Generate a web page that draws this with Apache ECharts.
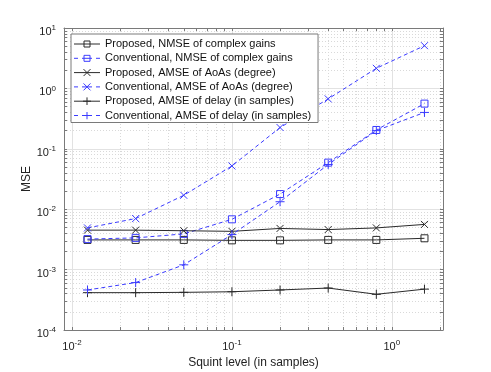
<!DOCTYPE html>
<html>
<head>
<meta charset="utf-8">
<script src="https://cdn.jsdelivr.net/npm/echarts@6/dist/echarts.min.js"></script>
<style>
  html, body { margin: 0; padding: 0; background: #fff; }
  #chart { width: 491px; height: 372px; pointer-events: none; }
</style>
</head>
<body>
<div id="chart"></div>
<script>
// squint levels (in samples)
const squint = [0.0125, 0.025, 0.05, 0.1, 0.2, 0.4, 0.8, 1.6];

const propNmse  = [3.1e-3, 3.1e-3, 3.1e-3, 3.05e-3, 3.05e-3, 3.1e-3, 3.1e-3, 3.3e-3];
const convNmse  = [3.2e-3, 3.35e-3, 3.9e-3, 6.8e-3, 1.78e-2, 0.059, 0.205, 0.56];
const propAoa   = [4.5e-3, 4.5e-3, 4.4e-3, 4.3e-3, 4.8e-3, 4.6e-3, 4.9e-3, 5.6e-3];
const convAoa   = [4.9e-3, 7.0e-3, 1.7e-2, 5.2e-2, 0.225, 0.67, 2.15, 5.1];
const propDelay = [4.15e-4, 4.15e-4, 4.2e-4, 4.3e-4, 4.6e-4, 4.95e-4, 3.9e-4, 4.75e-4];
const convDelay = [4.6e-4, 6.1e-4, 1.2e-3, 3.8e-3, 1.33e-2, 0.055, 0.2, 0.4];

const seriesNames = [
  'Proposed, NMSE of complex gains',
  'Conventional, NMSE of complex gains',
  'Proposed, AMSE of AoAs (degree)',
  'Conventional, AMSE of AoAs (degree)',
  'Proposed, AMSE of delay (in samples)',
  'Conventional, AMSE of delay (in samples)',
];

// decade exponents shown as tick labels
const xDecades = [-2, -1, 0];
const yDecades = [-4, -3, -2, -1, 0, 1];

// axis extents in log10 units
const X_LO = -2.05, X_HI = 0.32;
const Y_LO = -4, Y_HI = 1;

const FONT = '"Liberation Sans", Arial, sans-serif';
const BLACK = '#2a2a2a', BLUE = '#3b3bff';
const BOX = '#7a7a7a';
const CLEAR = 'rgba(0,0,0,0)';

const SYM = {
  square: 'path://M0,0L10,0L10,10L0,10Z',
  cross: 'path://M0,0L10,10M10,0L0,10',
  plus: 'path://M5,0L5,10M0,5L10,5',
};

// legend icons: line sample (26 x 8) with the marker in the middle
const SOLID = 'M0,4L26,4';
const DASHED = 'M0,4L4,4M8,4L18,4M22,4L26,4';
const ICON_MARK = {
  square: 'M10,1L16,1L16,7L10,7Z',
  cross: 'M9.5,0.5L16.5,7.5M16.5,0.5L9.5,7.5',
  plus: 'M13,0L13,8M9,4L17,4',
};

function legendIcon(d, color) {
  const svg = '<svg xmlns="http://www.w3.org/2000/svg" width="26" height="8" viewBox="0 0 26 8">' +
    '<path d="' + d + '" fill="none" stroke="' + color + '" stroke-width="1"/></svg>';
  return 'image://data:image/svg+xml;charset=utf-8,' + encodeURIComponent(svg);
}

function minorLogs(lo, hi) {
  const out = [];
  for (let n = Math.floor(lo); n <= Math.ceil(hi); n++) {
    for (let k = 2; k <= 9; k++) {
      const v = Math.log10(k) + n;
      if (v > lo && v < hi) out.push(v);
    }
  }
  return out;
}

const rich = {
  b: { fontSize: 11, fontFamily: FONT, color: '#222', padding: [8, 0, 0, 0] },
  s: { fontSize: 8, fontFamily: FONT, color: '#222' },
};
const powLabel = (v) => '{b|10}{s|' + Math.round(v) + '}';

const boxLine = { show: true, onZero: false, lineStyle: { color: BOX, width: 1 } };

function decoAxis(pos, lo, hi, major, opts) {
  return Object.assign({
    type: 'value', position: pos, min: lo, max: hi, gridIndex: 0,
    axisLine: { show: false, onZero: false },
    axisTick: { show: true, inside: true, length: 3, customValues: major,
                lineStyle: { color: BOX, width: 1 } },
    axisLabel: { show: false },
    splitLine: { show: false },
  }, opts || {});
}

const xMinor = minorLogs(X_LO, X_HI);
const yMinor = minorLogs(Y_LO, Y_HI);

const xAxes = [
  // data axis (log)
  { type: 'log', min: Math.pow(10, X_LO), max: Math.pow(10, X_HI), show: false },
  // bottom, major + labels
  decoAxis('bottom', X_LO, X_HI, xDecades, {
    axisLine: boxLine,
    axisLabel: { show: true, customValues: xDecades, margin: 3, formatter: powLabel, rich },
    splitLine: { show: true, lineStyle: { color: '#e2e2e2', width: 1 } },
    name: 'Squint level (in samples)', nameLocation: 'middle', nameGap: 27,
    nameMoveOverlap: false,
    nameTextStyle: { fontSize: 12, fontFamily: FONT, color: '#222' },
  }),
  // bottom, minor
  decoAxis('bottom', X_LO, X_HI, xMinor, {
    splitLine: { show: true, lineStyle: { color: '#d9d9d9', width: 1, type: [1, 2] } },
  }),
  // top box side
  decoAxis('top', X_LO, X_HI, xDecades, { axisLine: boxLine }),
  decoAxis('top', X_LO, X_HI, xMinor),
];

const yAxes = [
  { type: 'log', min: Math.pow(10, Y_LO), max: Math.pow(10, Y_HI), show: false },
  decoAxis('left', Y_LO, Y_HI, yDecades, {
    axisLine: boxLine,
    axisLabel: { show: true, customValues: yDecades, margin: 8, formatter: powLabel, rich },
    splitLine: { show: true, lineStyle: { color: '#e2e2e2', width: 1 } },
    name: 'MSE', nameLocation: 'middle', nameGap: 31,
    nameMoveOverlap: false,
    nameTextStyle: { fontSize: 12, fontFamily: FONT, color: '#222' },
  }),
  decoAxis('left', Y_LO, Y_HI, yMinor, {
    splitLine: { show: true, lineStyle: { color: '#d9d9d9', width: 1, type: [1, 2] } },
  }),
  decoAxis('right', Y_LO, Y_HI, yDecades, { axisLine: boxLine }),
  decoAxis('right', Y_LO, Y_HI, yMinor),
];

const styles = [
  { values: propNmse,  color: BLACK, dashed: false, mark: 'square', size: 7 },
  { values: convNmse,  color: BLUE,  dashed: true,  mark: 'square', size: 7 },
  { values: propAoa,   color: BLACK, dashed: false, mark: 'cross',  size: 7 },
  { values: convAoa,   color: BLUE,  dashed: true,  mark: 'cross',  size: 7 },
  { values: propDelay, color: BLACK, dashed: false, mark: 'plus',   size: 9 },
  { values: convDelay, color: BLUE,  dashed: true,  mark: 'plus',   size: 9 },
];

const series = styles.map((s, i) => ({
  name: seriesNames[i],
  type: 'line',
  xAxisIndex: 0, yAxisIndex: 0,
  data: squint.map((x, j) => [x, s.values[j]]),
  symbol: SYM[s.mark], symbolSize: s.size,
  showAllSymbol: true,
  lineStyle: { color: s.color, width: 1, type: s.dashed ? [4, 3] : 'solid' },
  itemStyle: { color: CLEAR, borderColor: s.color, borderWidth: 1 },
  emphasis: { disabled: true },
  z: 3 + i,
}));

const legendData = styles.map((s, i) => ({
  name: seriesNames[i],
  icon: legendIcon((s.dashed ? DASHED : SOLID) + ICON_MARK[s.mark], s.color),
}));

const chart = echarts.init(document.getElementById('chart'), null, { renderer: 'canvas' });
chart.setOption({
  backgroundColor: '#fff',
  animation: false,
  grid: { left: 64, top: 28, right: 48, bottom: 42, containLabel: false, outerBoundsMode: 'none' },
  xAxis: xAxes,
  yAxis: yAxes,
  legend: {
    orient: 'vertical',
    left: 71, top: 34, z: 20,
    padding: [4, 3, 1, 3],
    itemWidth: 26, itemHeight: 8, itemGap: 2.3,
    backgroundColor: '#fff',
    borderColor: '#7a7a7a', borderWidth: 1, borderRadius: 0,
    selectedMode: false,
    textStyle: { fontSize: 11, fontFamily: FONT, color: '#111', lineHeight: 12, padding: [0, 4, 0, 0] },
    data: legendData,
  },
  series: series,
});
</script>
</body>
</html>
